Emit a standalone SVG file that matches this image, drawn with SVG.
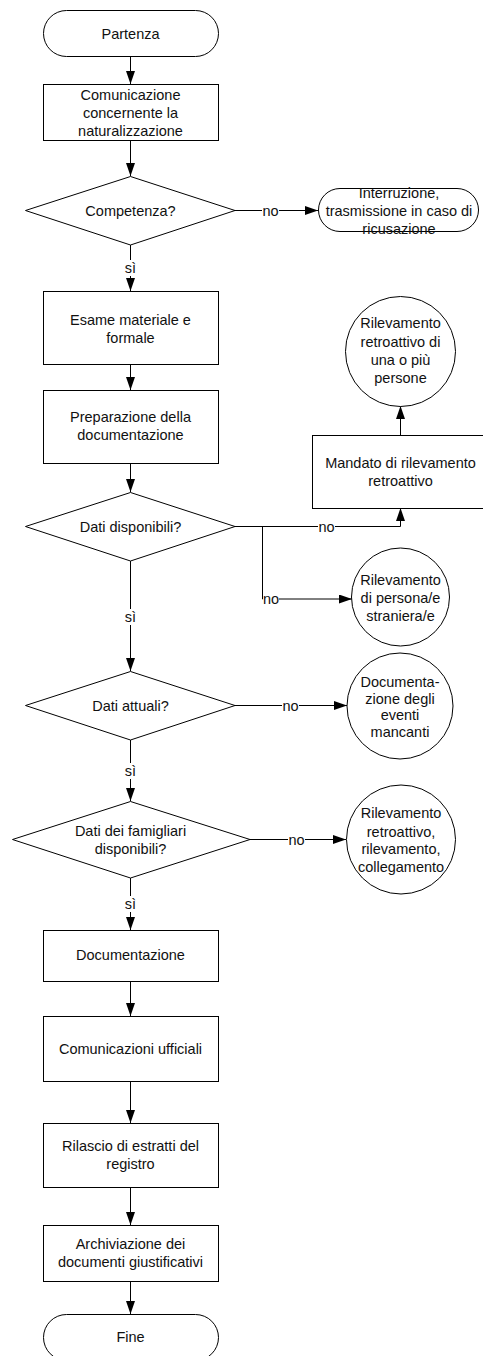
<svg xmlns="http://www.w3.org/2000/svg" width="483" height="1356" viewBox="0 0 483 1356">
<defs>
<marker id="ah" markerUnits="userSpaceOnUse" markerWidth="14" markerHeight="10" refX="13" refY="4.5" orient="auto">
<path d="M0,0 L13,4.5 L0,9 z" fill="#000"/>
</marker>
<style>
.s{fill:#fff;stroke:#000;stroke-width:1}
.t{font-family:"Liberation Sans",Arial,sans-serif;font-size:14.5px;fill:#111;text-anchor:middle}
.c{fill:none;stroke:#000;stroke-width:1}
.lb{fill:#fff;stroke:none}
</style>
</defs>
<rect width="483" height="1356" fill="#fff"/>

<g id="connectors">
<path class="c" d="M130.5,56 V84" marker-end="url(#ah)"/>
<path class="c" d="M130.5,140 V176" marker-end="url(#ah)"/>
<path class="c" d="M235,210.5 H318" marker-end="url(#ah)"/>
<path class="c" d="M130.5,245 V291" marker-end="url(#ah)"/>
<path class="c" d="M130.5,365 V390" marker-end="url(#ah)"/>
<path class="c" d="M130.5,463 V492" marker-end="url(#ah)"/>
<path class="c" d="M235,526.5 H400.5 V508" marker-end="url(#ah)"/>
<path class="c" d="M262.5,526.5 V599 H352" marker-end="url(#ah)"/>
<path class="c" d="M400.5,435 V406" marker-end="url(#ah)"/>
<path class="c" d="M130.5,561 V671" marker-end="url(#ah)"/>
<path class="c" d="M235,705.5 H347" marker-end="url(#ah)"/>
<path class="c" d="M130.5,740 V801" marker-end="url(#ah)"/>
<path class="c" d="M250,839.5 H346" marker-end="url(#ah)"/>
<path class="c" d="M130.5,878 V930" marker-end="url(#ah)"/>
<path class="c" d="M130.5,981 V1016" marker-end="url(#ah)"/>
<path class="c" d="M130.5,1081 V1123" marker-end="url(#ah)"/>
<path class="c" d="M130.5,1187 V1225" marker-end="url(#ah)"/>
<path class="c" d="M130.5,1282 V1314" marker-end="url(#ah)"/>
<g id="labels">
<rect class="lb" x="262" y="202" width="17" height="16"/><text class="t" x="270.5" y="215.5">no</text>
<rect class="lb" x="124" y="260" width="13" height="16"/><text class="t" x="130.5" y="273">sì</text>
<rect class="lb" x="318" y="518" width="17" height="16"/><text class="t" x="326.5" y="531.5">no</text>
<rect class="lb" x="263" y="591" width="16" height="16"/><text class="t" x="271" y="604">no</text>
<rect class="lb" x="124" y="609" width="13" height="16"/><text class="t" x="130.5" y="622">sì</text>
<rect class="lb" x="282" y="697" width="17" height="16"/><text class="t" x="290.5" y="710.5">no</text>
<rect class="lb" x="124" y="763" width="13" height="16"/><text class="t" x="130.5" y="776">sì</text>
<rect class="lb" x="288" y="831" width="17" height="16"/><text class="t" x="296.5" y="844.5">no</text>
<rect class="lb" x="124" y="896" width="13" height="16"/><text class="t" x="130.5" y="909">sì</text>
</g>
</g>

<g id="n-partenza"><rect class="s" x="43.5" y="10.5" width="175" height="46" rx="23" ry="23"/><text class="t" x="130.5" y="38.5">Partenza</text></g>
<g id="n-comunicazione"><rect class="s" x="43.5" y="84.5" width="175" height="56"/>
<text class="t" x="130.5" y="99.5">Comunicazione</text><text class="t" x="130.5" y="117.5">concernente la</text><text class="t" x="130.5" y="135.5">naturalizzazione</text></g>
<g id="n-competenza"><polygon class="s" points="130.5,176.5 235,210.5 130.5,245 25.5,210.5"/><text class="t" x="130.5" y="215.5">Competenza?</text></g>
<g id="n-interruzione"><rect class="s" x="318.5" y="188.5" width="160" height="43" rx="21.5" ry="21.5"/>
<text class="t" x="399" y="198">Interruzione,</text><text class="t" x="399" y="216">trasmissione in caso di</text><text class="t" x="399" y="234">ricusazione</text></g>
<g id="n-esame"><rect class="s" x="43.5" y="291.5" width="175" height="73"/>
<text class="t" x="130.5" y="325">Esame materiale e</text><text class="t" x="130.5" y="343">formale</text></g>
<g id="n-preparazione"><rect class="s" x="43.5" y="390.5" width="175" height="73"/>
<text class="t" x="130.5" y="422">Preparazione della</text><text class="t" x="130.5" y="440">documentazione</text></g>
<g id="n-rilev1"><circle class="s" cx="400.5" cy="351.5" r="55"/>
<text class="t" x="400.5" y="328">Rilevamento</text><text class="t" x="400.5" y="346.5">retroattivo di</text><text class="t" x="400.5" y="365">una o più</text><text class="t" x="400.5" y="383">persone</text></g>
<g id="n-mandato"><rect class="s" x="312.5" y="435.5" width="176" height="73"/>
<text class="t" x="400.5" y="468">Mandato di rilevamento</text><text class="t" x="400.5" y="486">retroattivo</text></g>
<g id="n-datidisp"><polygon class="s" points="130.5,492.5 235,526.5 130.5,561 25.5,526.5"/><text class="t" x="130.5" y="531.5">Dati disponibili?</text></g>
<g id="n-rilev2"><circle class="s" cx="400.5" cy="597" r="49"/>
<text class="t" x="400.5" y="585">Rilevamento</text><text class="t" x="400.5" y="603">di persona/e</text><text class="t" x="400.5" y="621">straniera/e</text></g>
<g id="n-datiatt"><polygon class="s" points="130.5,671.5 235,705.5 130.5,740 25.5,705.5"/><text class="t" x="130.5" y="710.5">Dati attuali?</text></g>
<g id="n-docum"><circle class="s" cx="400" cy="706" r="53"/>
<text class="t" x="400" y="687">Documenta-</text><text class="t" x="400" y="703.5">zione degli</text><text class="t" x="400" y="720">eventi</text><text class="t" x="400" y="737">mancanti</text></g>
<g id="n-famigliari"><polygon class="s" points="130.5,801.5 250,839.5 130.5,878 12.5,839.5"/>
<text class="t" x="130.5" y="836">Dati dei famigliari</text><text class="t" x="130.5" y="854">disponibili?</text></g>
<g id="n-rilev3"><circle class="s" cx="401" cy="839.5" r="54.5"/>
<text class="t" x="401" y="818">Rilevamento</text><text class="t" x="401" y="836.5">retroattivo,</text><text class="t" x="401" y="853.5">rilevamento,</text><text class="t" x="401" y="872">collegamento</text></g>
<g id="n-documentazione"><rect class="s" x="43.5" y="930.5" width="175" height="51"/><text class="t" x="130.5" y="960">Documentazione</text></g>
<g id="n-comunicazioni"><rect class="s" x="43.5" y="1016.5" width="175" height="65"/><text class="t" x="130.5" y="1054">Comunicazioni ufficiali</text></g>
<g id="n-rilascio"><rect class="s" x="43.5" y="1123.5" width="175" height="64"/>
<text class="t" x="130.5" y="1151">Rilascio di estratti del</text><text class="t" x="130.5" y="1169">registro</text></g>
<g id="n-archiviazione"><rect class="s" x="43.5" y="1225.5" width="175" height="56"/>
<text class="t" x="130.5" y="1249">Archiviazione dei</text><text class="t" x="130.5" y="1267">documenti giustificativi</text></g>
<g id="n-fine"><rect class="s" x="43.5" y="1314.5" width="175" height="46" rx="23" ry="23"/><text class="t" x="130.5" y="1342">Fine</text></g>
</svg>
